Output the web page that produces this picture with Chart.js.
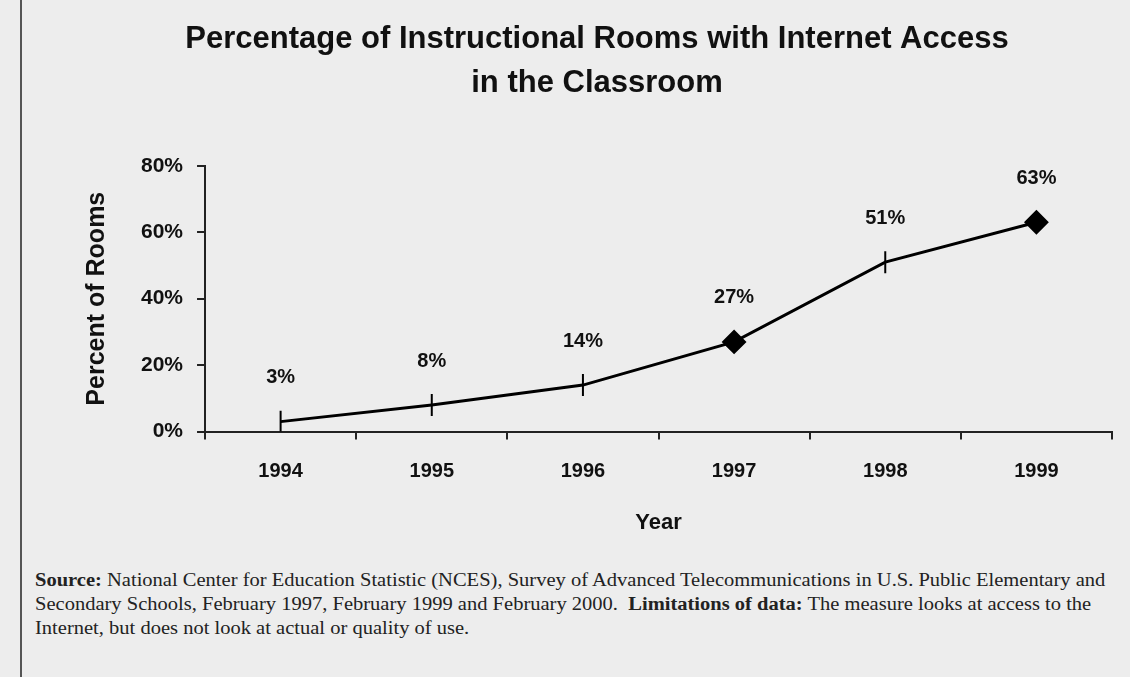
<!DOCTYPE html>
<html>
<head>
<meta charset="utf-8">
<script src="https://cdn.jsdelivr.net/npm/chart.js@4"></script>
<style>
  body { margin: 0; background: #ededed; }
  #wrap { position: relative; width: 1130px; height: 677px; overflow: hidden; }
  #edge { position: absolute; left: 20px; top: 0; width: 2px; height: 677px; background: #555; }
  #chart { position: absolute; left: 0; top: 0; }
  #source {
    position: absolute; left: 35px; top: 568px;
    font-family: "Liberation Serif", "Times New Roman", serif;
    font-size: 18px; line-height: 24px; color: #222; white-space: nowrap;
    transform: scaleX(1.14); transform-origin: left top;
  }
</style>
</head>
<body>
<div id="wrap">
  <div id="edge"></div>
  <canvas id="chart" width="1130" height="546"></canvas>
  <div id="source">
    <b>Source:</b> National Center for Education Statistic (NCES), Survey of Advanced Telecommunications in U.S. Public Elementary and<br>
    Secondary Schools, February 1997, February 1999 and February 2000.&nbsp; <b>Limitations of data:</b> The measure looks at access to the<br>
    Internet, but does not look at actual or quality of use.
  </div>
</div>
<script>
const years = ["1994", "1995", "1996", "1997", "1998", "1999"]
const percents = [3, 8, 14, 27, 51, 63]
const yTicks = [0, 20, 40, 60, 80]
const markers = ["line", "line", "line", "rectRot", "line", "rectRot"]

const font = "'Liberation Sans', Arial, sans-serif"

// puts the "nn%" text above each point
const valueLabels = {
    id: "valueLabels",
    afterDatasetsDraw(chart) {
        const ctx = chart.ctx
        const meta = chart.getDatasetMeta(0)
        ctx.save()
        ctx.font = "bold 20px " + font
        ctx.fillStyle = "#111"
        ctx.textAlign = "center"
        ctx.textBaseline = "middle"
        meta.data.forEach((pt, i) => {
            ctx.fillText(percents[i] + "%", pt.x, pt.y - 44)
        })
        ctx.restore()
    }
}

var chart = new Chart(document.getElementById("chart"), {
    type: "line",
    data: {
        labels: years,
        datasets: [{
            data: percents,
            borderColor: "#000",
            borderWidth: 3,
            tension: 0,
            pointStyle: markers,
            pointRotation: markers.map(m => m == "line" ? 90 : 0),
            pointRadius: 11,
            pointHoverRadius: 11,
            pointBackgroundColor: "#000",
            pointBorderColor: "#000",
            pointBorderWidth: 2,
        }]
    },
    options: {
        responsive: false,
        animation: false,
        events: [],
        layout: { padding: { left: 82, right: 18, top: 0, bottom: 0 } },
        plugins: {
            legend: { display: false },
            tooltip: { enabled: false },
            title: {
                display: true,
                text: ["Percentage of Instructional Rooms with Internet Access", "in the Classroom"],
                color: "#111",
                font: { family: font, size: 31, weight: "bold", lineHeight: 1.4 },
                padding: { top: 18, bottom: 61 }
            }
        },
        scales: {
            x: {
                offset: true,
                grid: { offset: true, drawOnChartArea: false, drawTicks: true, tickLength: 8, color: "#222", lineWidth: 2 },
                border: { display: true, color: "#222", width: 2 },
                ticks: { color: "#111", padding: 20, font: { family: font, size: 20, weight: "bold" } },
                title: {
                    display: true, text: "Year", color: "#111",
                    font: { family: font, size: 22, weight: "bold" },
                    padding: { top: 6, bottom: 10 }
                }
            },
            y: {
                min: 0, max: 80,
                afterBuildTicks: (scale) => { scale.ticks = yTicks.map(v => ({ value: v })) },
                grid: { drawOnChartArea: false, drawTicks: true, tickLength: 8, color: "#222", lineWidth: 2 },
                border: { display: true, color: "#222", width: 2 },
                ticks: {
                    color: "#111", padding: 14,
                    font: { family: font, size: 21, weight: "bold" },
                    callback: (v) => v + "%"
                },
                title: {
                    display: true, text: "Percent of Rooms", color: "#111",
                    font: { family: font, size: 25, weight: "bold" },
                    padding: { top: 0, bottom: 15 }
                }
            }
        }
    },
    plugins: [valueLabels]
})
</script>
</body>
</html>
